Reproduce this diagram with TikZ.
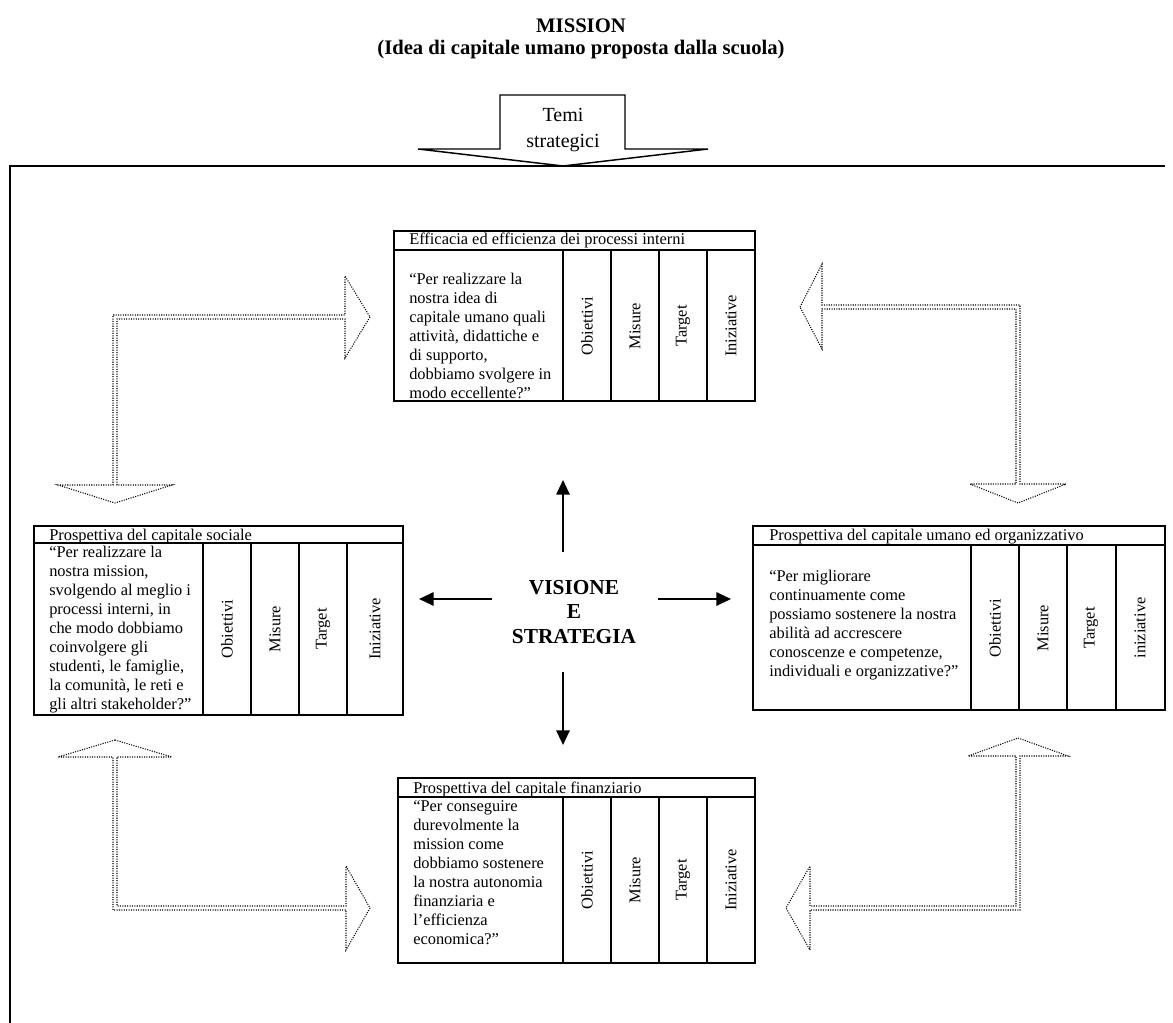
\documentclass[tikz,border=0pt]{standalone}
\usepackage{fontspec}
\setmainfont{Liberation Serif}
\usetikzlibrary{arrows.meta}

\begin{document}
\begin{tikzpicture}[x=0.75pt,y=-0.75pt,
  boxline/.style={line width=1.5pt},
  frameline/.style={line width=1.8pt},
  bodytext/.style={font=\fontsize{12.3}{14.25}\selectfont, inner sep=0pt, align=left},
  titletext/.style={font=\fontsize{12.3}{14.25}\selectfont, inner sep=0pt, anchor=base west},
  collabel/.style={font=\fontsize{12.3}{14.25}\selectfont, rotate=90, inner sep=0pt},
  hollowarrow/.style={densely dotted, line width=0.8pt, draw=black},
  centerarrow/.style={line width=1.5pt, -{Triangle[length=11pt,width=10pt]}}]
\useasboundingbox (0,0) rectangle (1173,1023);

% heading
\node[font=\bfseries\fontsize{15.5}{16.5}\selectfont, align=center] (mission) at (581,39)
  {MISSION\\(Idea di capitale umano proposta dalla scuola)};

% outer frame (top and left sides only)
\draw[frameline] (1165,166) -- (10,166) -- (10,1023);

% block arrow carrying the strategic themes
\draw[line width=1.1pt, fill=white] (500,149) -- (500,95) -- (625,95) -- (625,149)
  -- (708,149) -- (563,166) -- (418,149) -- cycle;
\node[font=\fontsize{15}{19.5}\selectfont, align=center] (temi) at (563,130) {Temi\\strategici};

% ---- internal processes (top) ----
\draw[boxline] (394,231) rectangle (755,401);
\draw[boxline] (394,250) -- (755,250);
\foreach \c in {563,611,659,707} \draw[boxline] (\c,250) -- (\c,401);
\node[titletext] (tTitle) at (409,245) {Efficacia ed efficienza dei processi interni};
\node[bodytext, anchor=north west] (tBody) at (409,273)
  {“Per realizzare la\\nostra idea di\\capitale umano quali\\attività, didattiche e\\di supporto,\\dobbiamo svolgere in\\modo eccellente?”};
\node[collabel] (tObj) at (587,326) {Obiettivi};
\node[collabel] (tMis) at (635,326) {Misure};
\node[collabel] (tTar) at (683,326) {Target};
\node[collabel] (tIni) at (731,326) {Iniziative};

% ---- social capital (left) ----
\draw[boxline] (34,526) rectangle (403,715);
\draw[boxline] (34,543) -- (403,543);
\foreach \c in {203,251,299,347} \draw[boxline] (\c,543) -- (\c,715);
\node[titletext] (lTitle) at (49,540) {Prospettiva del capitale sociale};
\node[bodytext, anchor=north west] (lBody) at (49,546)
  {“Per realizzare la\\nostra mission,\\svolgendo al meglio i\\processi interni, in\\che modo dobbiamo\\coinvolgere gli\\studenti, le famiglie,\\la comunità, le reti e\\gli altri stakeholder?”};
\node[collabel] (lObj) at (227,629) {Obiettivi};
\node[collabel] (lMis) at (275,629) {Misure};
\node[collabel] (lTar) at (323,629) {Target};
\node[collabel] (lIni) at (375,629) {Iniziative};

% ---- human and organisational capital (right) ----
\draw[boxline] (753,526) rectangle (1165,710);
\draw[boxline] (753,545) -- (1165,545);
\foreach \c in {971,1019,1067,1116} \draw[boxline] (\c,545) -- (\c,710);
\node[titletext] (rTitle) at (769,540) {Prospettiva del capitale umano ed organizzativo};
\node[bodytext, anchor=north west] (rBody) at (769,570)
  {“Per migliorare\\continuamente come\\possiamo sostenere la nostra\\abilità ad accrescere\\conoscenze e competenze,\\individuali e organizzative?”};
\node[collabel] (rObj) at (995,628) {Obiettivi};
\node[collabel] (rMis) at (1043,628) {Misure};
\node[collabel] (rTar) at (1091,628) {Target};
\node[collabel] (rIni) at (1140,628) {iniziative};

% ---- financial capital (bottom) ----
\draw[boxline] (398,778) rectangle (755,963);
\draw[boxline] (398,797) -- (755,797);
\foreach \c in {563,611,659,707} \draw[boxline] (\c,797) -- (\c,963);
\node[titletext] (bTitle) at (413,793) {Prospettiva del capitale finanziario};
\node[bodytext, anchor=north west] (bBody) at (413,800)
  {“Per conseguire\\durevolmente la\\mission come\\dobbiamo sostenere\\la nostra autonomia\\finanziaria e\\l’efficienza\\economica?”};
\node[collabel] (bObj) at (587,880) {Obiettivi};
\node[collabel] (bMis) at (635,880) {Misure};
\node[collabel] (bTar) at (683,880) {Target};
\node[collabel] (bIni) at (731,880) {Iniziative};

% ---- vision and strategy at the centre ----
\node[font=\bfseries\fontsize{16}{18.4}\selectfont, align=center] (vs) at (574,612)
  {VISIONE\\E\\STRATEGIA};
\coordinate (upA) at (563,552);   \coordinate (upB) at (563,480);
\coordinate (dnA) at (563,672);   \coordinate (dnB) at (563,745);
\coordinate (ltA) at (492,599);   \coordinate (ltB) at (419,599);
\coordinate (rtA) at (658,599);   \coordinate (rtB) at (731,599);
\draw[centerarrow] (upA) -- (upB);
\draw[centerarrow] (dnA) -- (dnB);
\draw[centerarrow] (ltA) -- (ltB);
\draw[centerarrow] (rtA) -- (rtB);

% ---- dotted bent double arrows linking the perspectives ----
% top left
\draw[hollowarrow] (370,317) -- (345,358) -- (345,319) -- (117,319) -- (117,485)
  -- (172,485) -- (115,503) -- (58,485) -- (113,485) -- (113,315) -- (345,315)
  -- (345,276) -- cycle;
% top right
\draw[hollowarrow] (800,307) -- (822,264) -- (822,305) -- (1020,305) -- (1020,484)
  -- (1066,484) -- (1018,503) -- (970,484) -- (1016,484) -- (1016,309) -- (822,309)
  -- (822,349) -- cycle;
% bottom left
\draw[hollowarrow] (115,740) -- (172,757) -- (117,757) -- (117,906) -- (346,906)
  -- (346,866) -- (370,908) -- (346,950) -- (346,910) -- (113,910) -- (113,757)
  -- (58,757) -- cycle;
% bottom right
\draw[hollowarrow] (1018,738) -- (1068,756) -- (1020,756) -- (1020,910) -- (810,910)
  -- (810,950) -- (786,908) -- (810,866) -- (810,906) -- (1016,906) -- (1016,756)
  -- (968,756) -- cycle;
\end{tikzpicture}
\end{document}
